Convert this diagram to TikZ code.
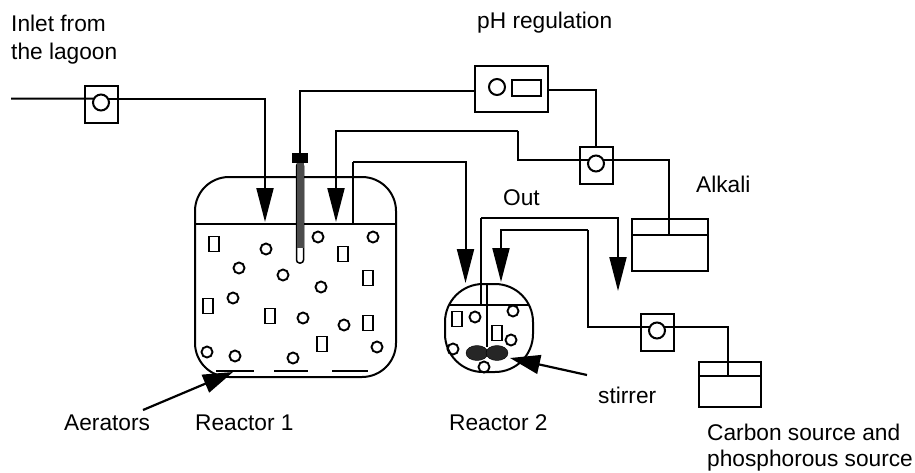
\documentclass[tikz,border=0pt]{standalone}
\usepackage{fontspec}
\setmainfont{Liberation Sans}
\usetikzlibrary{calc}
\usetikzlibrary{arrows.meta}
\usetikzlibrary{shapes.geometric}
\tikzstyle{pipe}=[line width=2pt,line join=miter]
\tikzstyle{feedarrow}=[pipe,-{Triangle[length=34pt,width=17pt]}]
\tikzstyle{pointerarrow}=[line width=2.2pt,-{Triangle[length=30pt,width=19pt]}]
\tikzstyle{vessel}=[draw,line width=2pt,inner sep=0pt,outer sep=0pt]
\tikzstyle{pumpbox}=[draw,line width=2pt,minimum width=33pt,minimum height=37pt,inner sep=0pt,outer sep=0pt]
\tikzstyle{pumpwheel}=[draw,circle,line width=2pt,minimum size=16pt,inner sep=0pt,outer sep=0pt]
\tikzstyle{bubble}=[draw,circle,line width=1.9pt,minimum size=11pt,inner sep=0pt,outer sep=0pt]
\tikzstyle{cell}=[draw,line width=1.9pt,minimum width=10pt,minimum height=15pt,inner sep=0pt,outer sep=0pt]
\tikzstyle{caption}=[anchor=base west,inner sep=0pt,font=\fontsize{22.7}{28}\selectfont]
\tikzstyle{blade}=[draw,ellipse,fill=black!85,minimum width=22pt,minimum height=15pt,inner sep=0pt]
\newcommand{\drawpump}[3]{
  \node[pumpbox] (#1box) at (#2,#3) {};
  \node[pumpwheel] (#1) at ($(#2,#3)+(0,-1.5)$) {};
}
\newcommand{\drawtank}[6]{
  % name, left, top, right, bottom, level
  \node[vessel,minimum width=#4pt-#2pt,minimum height=#5pt-#3pt] (#1) at ({(#2+#4)/2},{(#3+#5)/2}) {};
  \coordinate (#1levelw) at (#2,#6);
  \coordinate (#1levele) at (#4,#6);
  \draw[pipe] (#1levelw) -- (#1levele);
}
\begin{document}
\begin{tikzpicture}[x=1pt,y=-1pt]
  \useasboundingbox (0,0) rectangle (915,472);
  % reactors
  \node[vessel,rounded corners=34pt,minimum width=201pt,minimum height=200pt] (reactorone) at (295.5,277) {};
  \node[vessel,rounded corners=38pt,minimum width=88pt,minimum height=88pt] (reactortwo) at (489,328) {};
  \coordinate (onelevelw) at (195,224);
  \coordinate (onelevele) at (396,224);
  \draw[pipe] (onelevelw) -- (onelevele);
  \coordinate (twolevelw) at (449,305);
  \coordinate (twolevele) at (529,305);
  \draw[pipe] (twolevelw) -- (twolevele);
  % tanks
  \drawtank{alkali}{632}{219}{708}{271}{235}
  \drawtank{carbon}{699}{362}{761}{407}{376}
  % regulator
  \node[pumpbox,minimum width=73pt,minimum height=46pt] (phbox) at (511.5,89) {};
  \node[pumpwheel] (phwheel) at (497,87) {};
  \node[draw,line width=1.9pt,minimum width=29pt,minimum height=16pt,inner sep=0pt,outer sep=0pt] (phscreen) at (526.5,88) {};
  % pumps
  \drawpump{inletpump}{101}{104}
  \drawpump{alkalipump}{596}{165}
  \drawpump{carbonpump}{657}{332}
  % inlet
  \coordinate (inletstart) at (11,98.5);
  \coordinate (inlettip) at (265,222);
  \draw[pipe] (inletstart) -- (inletpump.150);
  \draw[feedarrow] (inletpump.30) -| (inlettip);
  % probe
  \node[fill=black,minimum width=16pt,minimum height=10pt,inner sep=0pt,outer sep=0pt] (probecap) at (300,158) {};
  \node[draw,line width=1.5pt,rounded corners=3pt,minimum width=7pt,minimum height=100pt,inner sep=0pt,outer sep=0pt] (probe) at (300,213) {};
  \fill[black!70] (296.5,163) rectangle (303.5,248);
  \draw[pipe] (phbox.west |- 0,91) -| (probecap.north);
  \draw[pipe] (phbox.east |- 0,90) -| (alkalipumpbox.north);
  % alkali feed
  \coordinate (alkalitip) at (336,222);
  \coordinate (alkaliturn) at (518,131);
  \draw[pipe] (alkalipump.150) -| (alkaliturn);
  \draw[feedarrow] (alkaliturn) -| (alkalitip);
  \coordinate (alkalidrop) at (669,235);
  \draw[pipe] (alkalipump.30) -| (alkalidrop);
  % transfer between the reactors
  \coordinate (transferstart) at (353,224);
  \coordinate (transfertip) at (465.5,283);
  \coordinate (transferturn) at (353,161.5);
  \draw[pipe] (transferstart) -- (transferturn);
  \draw[feedarrow] (transferturn) -| (transfertip);
  % out
  \coordinate (outstart) at (481,305);
  \coordinate (outturn) at (481,218);
  \coordinate (outtip) at (618,291);
  \draw[pipe] (outstart) -- (outturn);
  \draw[feedarrow] (outturn) -| (outtip);
  % carbon feed
  \coordinate (carbontip) at (501,282);
  \coordinate (carbonturn) at (588,230);
  \coordinate (carbondrop) at (728,376);
  \draw[pipe] (carbonpump.150) -| (carbonturn);
  \draw[feedarrow] (carbonturn) -| (carbontip);
  \draw[pipe] (carbonpump.30) -| (carbondrop);
  % stirrer
  \coordinate (shafttop) at (487,284);
  \coordinate (shaftend) at (487,347);
  \draw[line width=1.5pt] (shafttop) -- (shaftend);
  \node[blade] (bladeleft) at (477,353) {};
  \node[blade] (bladeright) at (497,353) {};
  % aerators
  \foreach \i/\j [count=\k] in {216/254,274/308,332/368} {
    \coordinate (aeratorw\k) at (\i,371);
    \coordinate (aeratore\k) at (\j,371);
    \draw[line width=2pt] (aeratorw\k) -- (aeratore\k);
  }
  % bubbles and cells
  \foreach \x/\y [count=\i] in {318/237,373/237,266/249,239/268,283/275,321/287,233/298,303/318,344/325,377/347,207/352,235/356,293/358,475/317,513/311,511/340,453/349,484/367} {
    \node[bubble] (bubble\i) at (\x,\y) {};
  }
  \foreach \x/\y [count=\i] in {214/244,343/254,368/278,208/306,270/316,368/323,322/344,457/319,497/333} {
    \node[cell] (cell\i) at (\x,\y) {};
  }
  % labels
  \node[caption] (inletlabel) at (11,31) {Inlet from};
  \node[caption] (lagoonlabel) at (11,59) {the lagoon};
  \node[caption] (phlabel) at (477,28) {pH regulation};
  \node[caption] (alkalilabel) at (696,192) {Alkali};
  \node[caption] (outlabel) at (503,205) {Out};
  \node[caption] (stirrerlabel) at (598,403) {stirrer};
  \node[caption] (carbonlabel) at (707,440) {Carbon source and};
  \node[caption] (phosphoruslabel) at (707,466) {phosphorous source};
  \node[caption] (aeratorlabel) at (64,430) {Aerators};
  \node[caption] (onelabel) at (195,430) {Reactor 1};
  \node[caption] (twolabel) at (449,430) {Reactor 2};
  % pointers
  \coordinate (aeratortail) at (143,410);
  \coordinate (aeratortip) at (233,372);
  \draw[pointerarrow] (aeratortail) -- (aeratortip);
  \coordinate (stirrertail) at (587,375);
  \coordinate (stirrertip) at (510,358);
  \draw[pointerarrow] (stirrertail) -- (stirrertip);
\end{tikzpicture}
\end{document}
